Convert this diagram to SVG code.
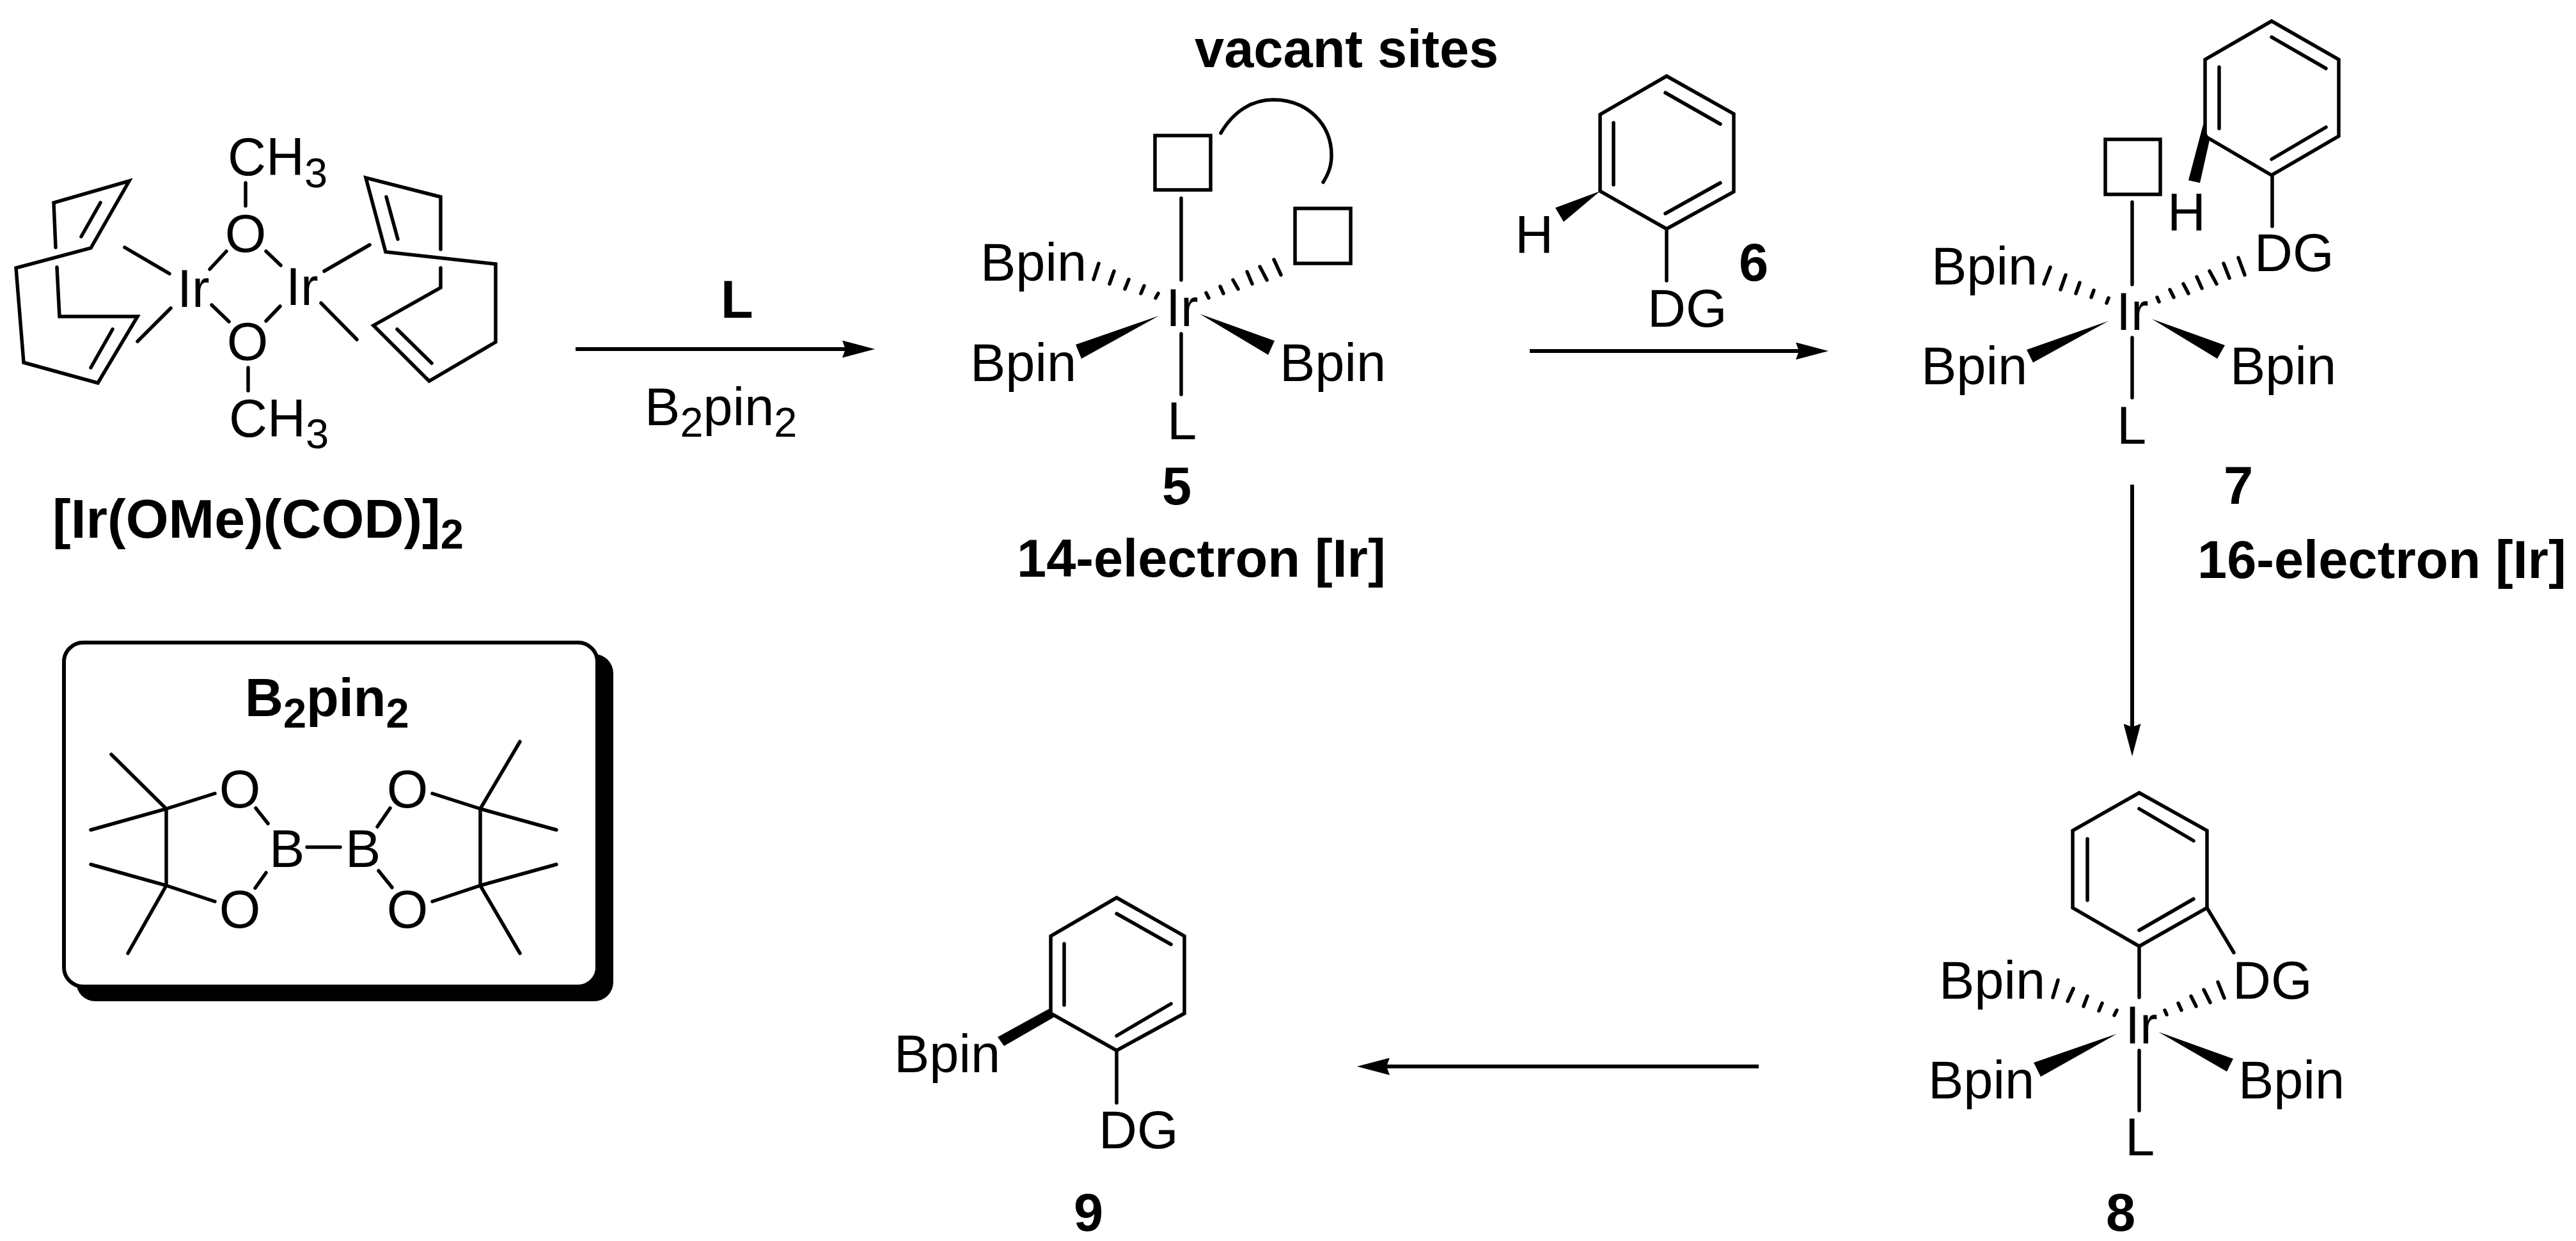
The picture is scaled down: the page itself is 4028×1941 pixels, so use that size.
<svg xmlns="http://www.w3.org/2000/svg" width="4028" height="1941" viewBox="0 0 4028 1941">
<style>
text{font-family:"Liberation Sans",Arial,sans-serif;font-size:83px;fill:#000}
.h{font-weight:700}
.s{font-size:65px}
.t{font-size:86px}
.b,.b path,.b line,.b polyline{fill:none;stroke:#000;stroke-width:5.5;stroke-linecap:round;stroke-linejoin:miter}
.w{fill:#000;stroke:none}
.v{fill:#fff;stroke:#000;stroke-width:6}
.a{stroke:#000;stroke-width:6;fill:none}
</style>
<defs>
<marker id="ah" markerUnits="userSpaceOnUse" markerWidth="51" markerHeight="27" refX="10" refY="13.5" orient="auto">
<path d="M51,13.5 L0,0 L5,13.5 L0,27 Z" fill="#000"/>
</marker>
</defs>
<rect width="4028" height="1941" fill="#fff"/>

<g id="connectors">
<line class="a" x1="900" y1="546" x2="1327" y2="546" marker-end="url(#ah)"/>
<line class="a" x1="2392" y1="549" x2="2818" y2="549" marker-end="url(#ah)"/>
<line class="a" x1="3334" y1="758" x2="3334" y2="1142" marker-end="url(#ah)"/>
<line class="a" x1="2750" y1="1668" x2="2163" y2="1668" marker-end="url(#ah)"/>
</g>

<g id="reagents">
<text class="h" x="1127" y="497">L</text>
<text x="1008" y="665">B<tspan class="s" dy="18">2</tspan><tspan dy="-18">pin</tspan><tspan class="s" dy="18">2</tspan></text>
</g>

<g id="ir-ome-cod">
<g class="b">
<polyline points="87,387 84,317 202,283 142,388 25,419 37,567 153,599 215,495 93,495 89,418"/>
<line x1="157" y1="317" x2="127" y2="370"/>
<line x1="176" y1="515" x2="142" y2="575"/>
<line x1="195" y1="387" x2="265" y2="428"/>
<line x1="267" y1="482" x2="215" y2="534"/>
<line x1="384" y1="286" x2="384" y2="322"/>
<line x1="354" y1="393" x2="328" y2="421"/>
<line x1="416" y1="393" x2="439" y2="415"/>
<line x1="331" y1="477" x2="358" y2="503"/>
<line x1="438" y1="479" x2="416" y2="502"/>
<line x1="388" y1="575" x2="388" y2="611"/>
<polyline points="689,390 689,308 572,278 603,394 775,413 775,535 671,596 584,509 689,450 689,419"/>
<line x1="604" y1="308" x2="622" y2="374"/>
<line x1="621" y1="515" x2="675" y2="568"/>
<line x1="578" y1="383" x2="507" y2="424"/>
<line x1="502" y1="474" x2="558" y2="531"/>
</g>
<text x="277" y="480">Ir</text>
<text x="447" y="477">Ir</text>
<text x="384" y="394" text-anchor="middle">O</text>
<text x="387" y="563" text-anchor="middle">O</text>
<text x="356" y="274">CH<tspan class="s" dy="19">3</tspan></text>
<text x="358" y="683">CH<tspan class="s" dy="18">3</tspan></text>
<text class="h t" x="82" y="841">[Ir(OMe)(COD)]<tspan class="s" dy="17">2</tspan></text>
</g>

<g id="b2pin2-box">
<rect x="119" y="1023" width="840" height="543" rx="30" class="w"/>
<rect x="100" y="1005" width="834" height="538" rx="30" class="v"/>
<text class="h" x="383" y="1120">B<tspan class="s" dy="18">2</tspan><tspan dy="-18">pin</tspan><tspan class="s" dy="18">2</tspan></text>
<g class="b">
<line x1="174" y1="1180" x2="260" y2="1265"/>
<line x1="142" y1="1298" x2="260" y2="1265"/>
<line x1="260" y1="1265" x2="336" y2="1241"/>
<line x1="260" y1="1265" x2="260" y2="1385"/>
<line x1="142" y1="1352" x2="260" y2="1385"/>
<line x1="260" y1="1385" x2="336" y2="1410"/>
<line x1="260" y1="1385" x2="200" y2="1491"/>
<line x1="813" y1="1160" x2="751" y2="1265"/>
<line x1="870" y1="1298" x2="751" y2="1265"/>
<line x1="676" y1="1241" x2="751" y2="1265"/>
<line x1="751" y1="1265" x2="751" y2="1385"/>
<line x1="870" y1="1352" x2="751" y2="1385"/>
<line x1="676" y1="1410" x2="751" y2="1385"/>
<line x1="813" y1="1491" x2="751" y2="1385"/>
<line x1="480" y1="1325" x2="532" y2="1325"/>
<line x1="400" y1="1264" x2="419" y2="1288"/>
<line x1="416" y1="1365" x2="399" y2="1389"/>
<line x1="610" y1="1264" x2="590" y2="1293"/>
<line x1="592" y1="1362" x2="613" y2="1388"/>
</g>
<text x="375" y="1263" text-anchor="middle">O</text>
<text x="637" y="1263" text-anchor="middle">O</text>
<text x="375" y="1451" text-anchor="middle">O</text>
<text x="637" y="1451" text-anchor="middle">O</text>
<text x="421" y="1356">B</text>
<text x="540" y="1356">B</text>
</g>

<g id="complex-5">
<text class="h" x="1868" y="105">vacant sites</text>
<g class="b">
<rect x="1806" y="212" width="87" height="85"/>
<rect x="2025" y="326" width="87" height="86"/>
<path d="M1909,208 C1930,172 1960,156 1991,156 C2045,156 2082,195 2082,243 C2082,260 2077,272 2069,285"/>
<line x1="1847" y1="310" x2="1847" y2="438"/>
<line x1="1847" y1="522" x2="1847" y2="617"/>
<line x1="1718" y1="412" x2="1710" y2="437"/>
<line x1="1742" y1="424" x2="1735" y2="444"/>
<line x1="1765" y1="437" x2="1759" y2="452"/>
<line x1="1789" y1="447" x2="1784" y2="459"/>
<line x1="1811" y1="459" x2="1807" y2="466"/>
<line x1="1992" y1="406" x2="2003" y2="430"/>
<line x1="1970" y1="417" x2="1981" y2="438"/>
<line x1="1950" y1="425" x2="1958" y2="444"/>
<line x1="1928" y1="438" x2="1936" y2="452"/>
<line x1="1908" y1="448" x2="1913" y2="459"/>
<line x1="1886" y1="458" x2="1890" y2="466"/>
</g>
<polygon class="w" points="1812,494 1682,539 1691,561"/>
<polygon class="w" points="1876,491 1993,533 1983,555"/>
<text x="1533" y="439">Bpin</text>
<text x="1517" y="596">Bpin</text>
<text x="2001" y="596">Bpin</text>
<text x="1823" y="510">Ir</text>
<text x="1825" y="687">L</text>
<text class="h" x="1840" y="789" text-anchor="middle">5</text>
<text class="h" x="1590" y="902">14-electron [Ir]</text>
</g>

<g id="arene-6">
<g class="b">
<polygon points="2606,119 2711,178 2711,300 2606,358 2502,299 2502,179"/>
<line x1="2604" y1="145" x2="2690" y2="194"/>
<line x1="2690" y1="286" x2="2604" y2="334"/>
<line x1="2523" y1="192" x2="2523" y2="289"/>
<line x1="2606" y1="360" x2="2606" y2="439"/>
</g>
<polygon class="w" points="2502,299 2432,325 2445,347"/>
<text x="2369" y="396">H</text>
<text x="2576" y="511">DG</text>
<text class="h" x="2742" y="439" text-anchor="middle">6</text>
</g>

<g id="complex-7">
<g class="b">
<polygon points="3552,33 3657,93 3657,213 3552,274 3448,213 3448,93"/>
<line x1="3552" y1="58" x2="3637" y2="107"/>
<line x1="3637" y1="199" x2="3552" y2="249"/>
<line x1="3470" y1="105" x2="3470" y2="201"/>
<line x1="3553" y1="276" x2="3553" y2="354"/>
<rect x="3292" y="218" width="86" height="86"/>
<line x1="3334" y1="316" x2="3334" y2="445"/>
<line x1="3334" y1="528" x2="3334" y2="622"/>
<line x1="3206" y1="418" x2="3196" y2="444"/>
<line x1="3230" y1="430" x2="3222" y2="453"/>
<line x1="3252" y1="442" x2="3246" y2="459"/>
<line x1="3274" y1="454" x2="3270" y2="465"/>
<line x1="3297" y1="466" x2="3294" y2="474"/>
<line x1="3500" y1="403" x2="3510" y2="430"/>
<line x1="3477" y1="412" x2="3486" y2="435"/>
<line x1="3455" y1="424" x2="3466" y2="444"/>
<line x1="3435" y1="433" x2="3443" y2="451"/>
<line x1="3414" y1="444" x2="3422" y2="459"/>
<line x1="3393" y1="453" x2="3399" y2="465"/>
<line x1="3373" y1="465" x2="3376" y2="472"/>
</g>
<polygon class="w" points="3445,195 3455,219 3440,286 3422,282"/>
<polygon class="w" points="3297,502 3169,547 3179,567"/>
<polygon class="w" points="3365,499 3479,540 3467,561"/>
<text x="3389" y="361">H</text>
<text x="3525" y="424">DG</text>
<text x="3309" y="516">Ir</text>
<text x="3020" y="445">Bpin</text>
<text x="3004" y="601">Bpin</text>
<text x="3487" y="601">Bpin</text>
<text x="3310" y="694">L</text>
<text class="h" x="3500" y="788" text-anchor="middle">7</text>
<text class="h" x="3436" y="904">16-electron [Ir]</text>
</g>

<g id="complex-8">
<g class="b">
<polygon points="3345,1240 3451,1299 3451,1420 3345,1480 3241,1420 3241,1299"/>
<line x1="3345" y1="1265" x2="3430" y2="1315"/>
<line x1="3430" y1="1406" x2="3345" y2="1455"/>
<line x1="3264" y1="1312" x2="3264" y2="1408"/>
<line x1="3451" y1="1420" x2="3493" y2="1490"/>
<line x1="3345" y1="1480" x2="3345" y2="1560"/>
<line x1="3345" y1="1643" x2="3345" y2="1737"/>
<line x1="3218" y1="1533" x2="3210" y2="1560"/>
<line x1="3242" y1="1546" x2="3233" y2="1566"/>
<line x1="3264" y1="1558" x2="3258" y2="1574"/>
<line x1="3287" y1="1569" x2="3282" y2="1581"/>
<line x1="3310" y1="1580" x2="3306" y2="1588"/>
<line x1="3468" y1="1536" x2="3478" y2="1561"/>
<line x1="3446" y1="1548" x2="3456" y2="1568"/>
<line x1="3426" y1="1558" x2="3434" y2="1574"/>
<line x1="3406" y1="1569" x2="3411" y2="1580"/>
<line x1="3385" y1="1580" x2="3388" y2="1587"/>
</g>
<polygon class="w" points="3310,1617 3180,1662 3191,1684"/>
<polygon class="w" points="3375,1614 3492,1656 3482,1676"/>
<text x="3491" y="1562">DG</text>
<text x="3032" y="1562">Bpin</text>
<text x="3323" y="1632">Ir</text>
<text x="3015" y="1718">Bpin</text>
<text x="3500" y="1718">Bpin</text>
<text x="3323" y="1807">L</text>
<text class="h" x="3316" y="1925" text-anchor="middle">8</text>
</g>

<g id="product-9">
<g class="b">
<polygon points="1746,1404 1852,1464 1852,1585 1746,1643 1643,1585 1643,1464"/>
<line x1="1746" y1="1429" x2="1831" y2="1477"/>
<line x1="1831" y1="1570" x2="1746" y2="1620"/>
<line x1="1664" y1="1476" x2="1664" y2="1572"/>
<line x1="1746" y1="1645" x2="1746" y2="1725"/>
</g>
<polygon class="w" points="1640,1578 1648,1591 1570,1636 1560,1622"/>
<text x="1398" y="1677">Bpin</text>
<text x="1718" y="1796">DG</text>
<text class="h" x="1702" y="1925" text-anchor="middle">9</text>
</g>
</svg>
